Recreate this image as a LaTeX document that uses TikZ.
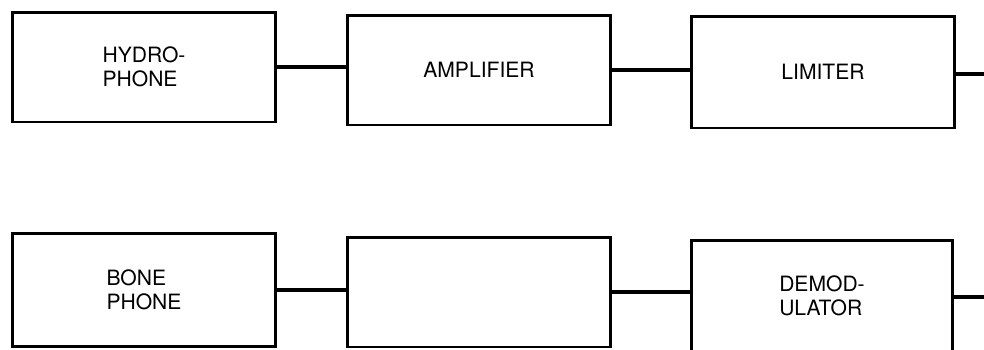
\documentclass[tikz,border=0pt]{standalone}
\usepackage{fontspec}
\setsansfont{TeX Gyre Heros}
\begin{document}
\begin{tikzpicture}[x=0.02cm,y=-0.02cm,
  blockbox/.style={draw,line width=1.7pt,minimum width=5.26cm,minimum height=2.2cm,
    align=left,font=\sffamily\fontsize{12}{13.6}\selectfont},
  wire/.style={line width=2.4pt}]
  \clip (0,0) rectangle (984,349);
  \node[blockbox] (hydro) at (144,67) {HYDRO-\\PHONE};
  \node[blockbox] (amp) at (479,70) {AMPLIFIER};
  \node[blockbox,minimum height=2.24cm] (lim) at (823,72) {LIMITER};
  \node[blockbox,minimum height=2.26cm] (bone) at (144,290) {BONE\\PHONE};
  \node[blockbox] (blank) at (479,292) {};
  \node[blockbox,minimum width=5.22cm,minimum height=2.24cm] (demod) at (822,296) {DEMOD-\\ULATOR};
  \coordinate (limout) at (984,74);
  \coordinate (demout) at (984,297);
  \draw[wire] (hydro.east) -- (hydro.east -| amp.west);
  \draw[wire] (amp.east) -- (amp.east -| lim.west);
  \draw[wire] (lim.east |- limout) -- (limout);
  \draw[wire] (bone.east) -- (bone.east -| blank.west);
  \draw[wire] (blank.east) -- (blank.east -| demod.west);
  \draw[wire] (demod.east |- demout) -- (demout);
\end{tikzpicture}
\end{document}
